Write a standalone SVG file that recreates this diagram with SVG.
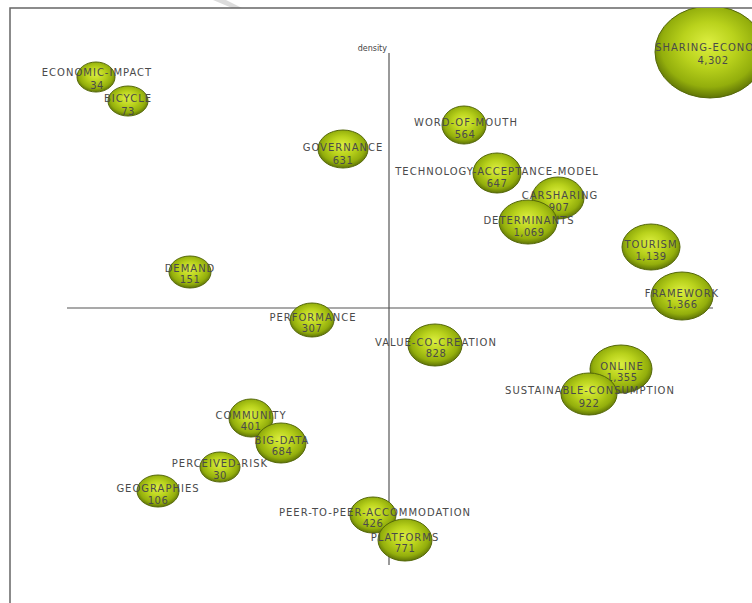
<svg xmlns="http://www.w3.org/2000/svg" width="752" height="603" viewBox="0 0 752 603">
<defs>
<radialGradient id="ball" cx="50%" cy="45%" r="55%" fx="48%" fy="40%">
<stop offset="0%" stop-color="#dcee40"/>
<stop offset="45%" stop-color="#b9d21c"/>
<stop offset="80%" stop-color="#93ae0c"/>
<stop offset="100%" stop-color="#5f7406"/>
</radialGradient>
<clipPath id="frameClip"><rect x="10" y="8" width="742" height="595"/></clipPath>
</defs>
<style>
.b{fill:url(#ball);stroke:#55680a;stroke-width:1}
.t{font-family:"DejaVu Sans","Liberation Sans",sans-serif;font-size:10px;letter-spacing:1px;fill:#4a4a4a;text-anchor:middle}
.n{font-family:"DejaVu Sans","Liberation Sans",sans-serif;font-size:10px;letter-spacing:0.5px;fill:#4a4a4a;text-anchor:middle}
.ax{stroke:#555;stroke-width:1.2;fill:none}
.fr{stroke:#666;stroke-width:1.5;fill:none}
</style>
<rect width="752" height="603" fill="#ffffff"/>
<polygon points="213,0 226,0 242,8 232,8" fill="#dcdcdc"/>
<g id="frame">
<path class="fr" d="M10,603 V8 H752"/>
</g>
<g id="axes">
<line class="ax" x1="389" y1="53" x2="389" y2="565"/>
<line class="ax" x1="67" y1="308" x2="713" y2="308"/>
<text x="387" y="51" style="font-family:'DejaVu Sans','Liberation Sans',sans-serif;font-size:8px;fill:#444;text-anchor:end">density</text>
</g>
<g clip-path="url(#frameClip)">
<g id="economic-impact"><ellipse class="b" cx="96" cy="77" rx="19" ry="15"/><text class="t" x="97" y="76">ECONOMIC-IMPACT</text><text class="n" x="97" y="89">34</text></g>
<g id="bicycle"><ellipse class="b" cx="128" cy="101" rx="20" ry="15"/><text class="t" x="128" y="102">BICYCLE</text><text class="n" x="128" y="115">73</text></g>
<g id="governance"><ellipse class="b" cx="343" cy="149" rx="25" ry="19"/><text class="t" x="343" y="151">GOVERNANCE</text><text class="n" x="343" y="164">631</text></g>
<g id="sharing-economy"><ellipse class="b" cx="710" cy="52" rx="55" ry="46"/><text class="t" x="713" y="51">SHARING-ECONOMY</text><text class="n" x="713" y="64">4,302</text></g>
<g id="word-of-mouth"><ellipse class="b" cx="464" cy="125" rx="22" ry="19"/><text class="t" x="466" y="126">WORD-OF-MOUTH</text><text class="n" x="465" y="138">564</text></g>
<g id="technology-acceptance-model"><ellipse class="b" cx="497" cy="173" rx="24" ry="20"/><text class="t" x="497" y="175">TECHNOLOGY-ACCEPTANCE-MODEL</text><text class="n" x="497" y="187">647</text></g>
<g id="carsharing"><ellipse class="b" cx="558" cy="198" rx="26" ry="21"/><text class="t" x="560" y="199">CARSHARING</text><text class="n" x="559" y="211">907</text></g>
<g id="determinants"><ellipse class="b" cx="528" cy="222" rx="29" ry="22"/><text class="t" x="529" y="224">DETERMINANTS</text><text class="n" x="529" y="236">1,069</text></g>
<g id="tourism"><ellipse class="b" cx="651" cy="247" rx="29" ry="23"/><text class="t" x="651" y="248">TOURISM</text><text class="n" x="651" y="260">1,139</text></g>
<g id="framework"><ellipse class="b" cx="682" cy="296" rx="31" ry="24"/><text class="t" x="682" y="297">FRAMEWORK</text><text class="n" x="682" y="308">1,366</text></g>
<g id="value-co-creation"><ellipse class="b" cx="435" cy="345" rx="27" ry="21"/><text class="t" x="436" y="346">VALUE-CO-CREATION</text><text class="n" x="436" y="357">828</text></g>
<g id="online"><ellipse class="b" cx="621" cy="369" rx="31" ry="24"/><text class="t" x="622" y="370">ONLINE</text><text class="n" x="622" y="381">1,355</text></g>
<g id="sustainable-consumption"><ellipse class="b" cx="589" cy="394" rx="28" ry="21"/><text class="t" x="590" y="394">SUSTAINABLE-CONSUMPTION</text><text class="n" x="589" y="407">922</text></g>
<g id="demand"><ellipse class="b" cx="190" cy="272" rx="21" ry="16"/><text class="t" x="190" y="272">DEMAND</text><text class="n" x="190" y="283">151</text></g>
<g id="performance"><ellipse class="b" cx="312" cy="320" rx="22" ry="17"/><text class="t" x="313" y="321">PERFORMANCE</text><text class="n" x="312" y="332">307</text></g>
<g id="community"><ellipse class="b" cx="251" cy="418" rx="22" ry="19"/><text class="t" x="251" y="419">COMMUNITY</text><text class="n" x="251" y="430">401</text></g>
<g id="big-data"><ellipse class="b" cx="281" cy="443" rx="25" ry="20"/><text class="t" x="282" y="444">BIG-DATA</text><text class="n" x="282" y="455">684</text></g>
<g id="perceived-risk"><ellipse class="b" cx="220" cy="467" rx="20" ry="15"/><text class="t" x="220" y="467">PERCEIVED-RISK</text><text class="n" x="220" y="479">30</text></g>
<g id="geographies"><ellipse class="b" cx="158" cy="491" rx="21" ry="16"/><text class="t" x="158" y="492">GEOGRAPHIES</text><text class="n" x="158" y="504">106</text></g>
<g id="peer-to-peer-accommodation"><ellipse class="b" cx="373" cy="515" rx="23" ry="18"/><text class="t" x="375" y="516">PEER-TO-PEER-ACCOMMODATION</text><text class="n" x="373" y="527">426</text></g>
<g id="platforms"><ellipse class="b" cx="405" cy="540" rx="27" ry="21"/><text class="t" x="405" y="541">PLATFORMS</text><text class="n" x="405" y="552">771</text></g>
</g>
</svg>
